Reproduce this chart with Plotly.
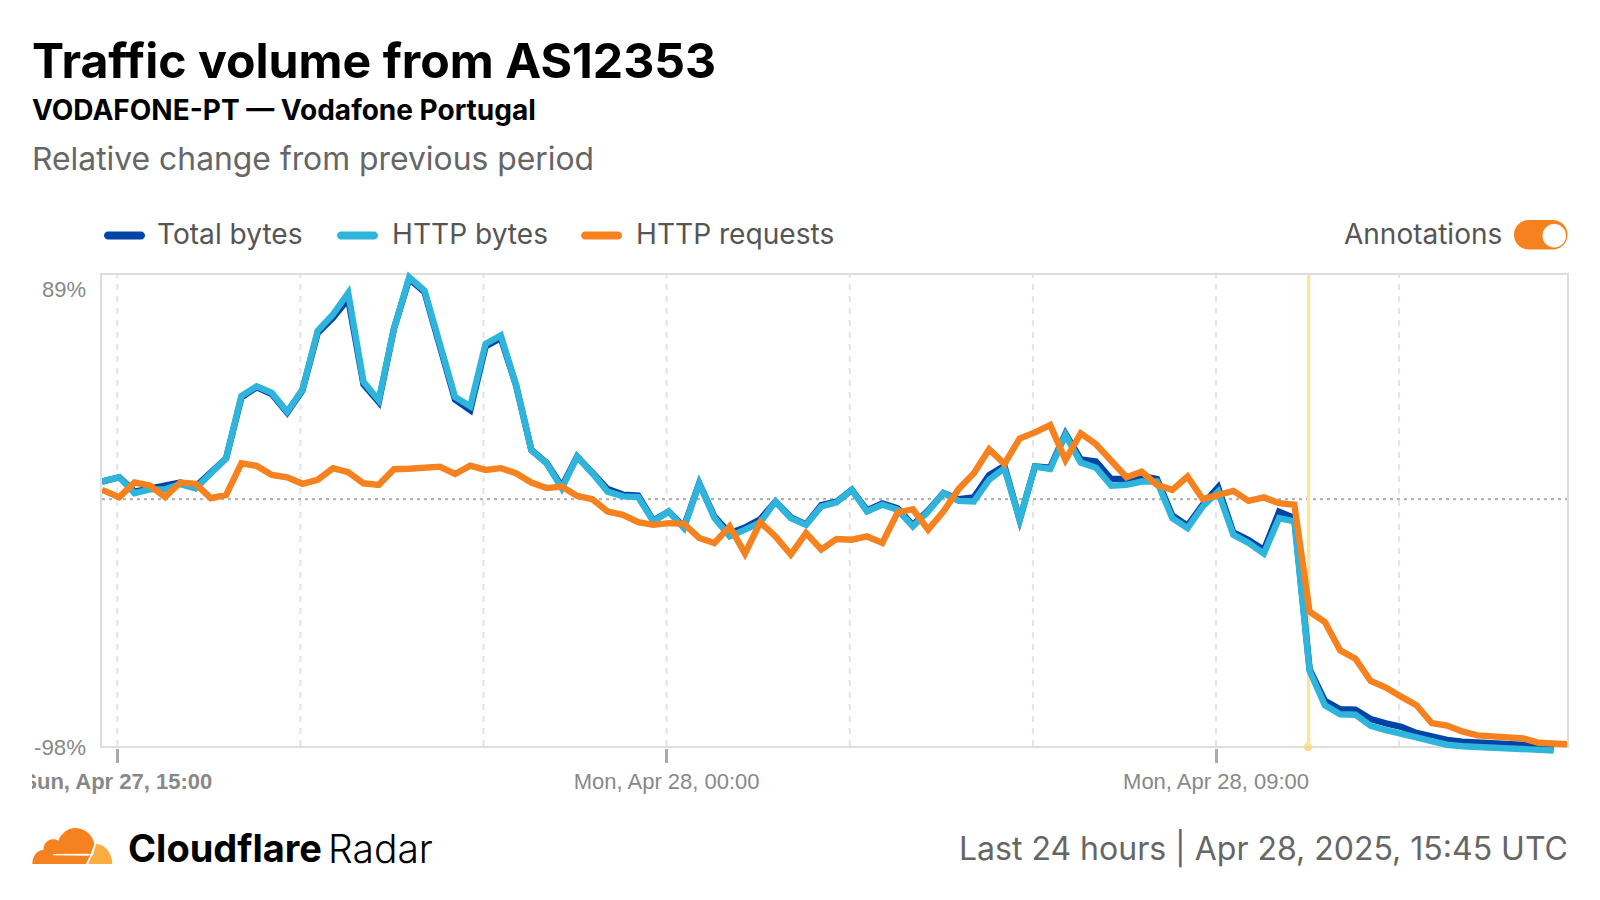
import pandas as pd
import plotly.graph_objects as go

# Sample times: points sit about two minutes after the quarter hour,
# with the first and last points on the edges of the chart.
times = list(pd.date_range("2025-04-27 14:47", periods=97, freq="15min"))
times[0] = pd.Timestamp("2025-04-27 14:45")
times[-1] = pd.Timestamp("2025-04-28 14:45")

total_bytes = [7.0,8.7,3.0,4.3,5.0,6.6,5.0,10.7,16.2,40.4,44.4,41.7,34.3,43.2,66.0,72.0,79.5,45.6,38.6,67.7,87.5,82.2,61.7,39.6,35.3,60.6,64.0,45.2,19.5,14.4,
 5.0,16.9,10.5,4.0,1.8,1.4,-8.5,-4.9,-11.0,6.3,-7.0,-13.5,-11.3,-8.0,-0.9,-7.2,-10.0,-2.4,-1.0,3.7,-4.5,-1.7,-3.6,-10.3,-4.5,2.4,0.0,0.7,9.5,
 13.2,-8.2,13.0,12.5,26.0,15.8,15.0,8.0,8.0,9.2,8.0,-6.5,-10.5,-2.2,4.7,-13.2,-16.2,-20.2,-5.0,-7.5,
 -67.6,-80.1,-83.4,-83.6,-87.3,-89.0,-90.4,-92.8,-94.4,-95.6,-96.3,-96.7,-97.0,-97.3,-97.5,-97.8,-99.0,None]
http_bytes = [7.0,8.7,2.4,3.9,3.9,6.0,4.3,10.7,16.2,41.0,44.8,42.2,34.7,43.5,66.8,73.3,81.9,46.6,39.3,67.7,88.1,82.8,61.7,40.6,36.9,61.7,65.0,45.2,19.5,14.2,
 4.3,16.9,10.3,3.0,1.1,0.8,-8.8,-4.9,-11.5,6.3,-7.5,-14.8,-12.1,-9.2,-0.9,-7.5,-10.2,-2.9,-1.3,3.7,-4.9,-2.2,-4.2,-10.8,-4.9,2.4,-0.7,-0.9,7.7,
 12.3,-8.2,12.9,12.0,25.5,14.5,12.5,5.3,5.7,7.0,7.0,-7.5,-11.5,-2.9,3.0,-14.1,-17.4,-21.6,-7.5,-8.8,
 -68.2,-81.8,-85.4,-85.6,-90.0,-91.7,-92.9,-94.6,-96.1,-97.5,-98.1,-98.3,-98.6,-98.8,-99.0,-99.3,-99.8,None]
http_requests = [3.7,0.8,6.6,5.4,0.8,6.6,6.1,0.4,1.7,14.2,13.2,9.6,8.7,6.1,7.7,12.3,10.7,6.3,5.7,11.9,12.1,12.5,12.9,10.0,13.3,11.6,12.3,10.3,6.6,4.4,
 5.0,1.3,0.0,-4.9,-6.2,-9.1,-10.2,-9.5,-9.8,-15.4,-17.4,-10.8,-21.6,-9.2,-14.8,-22.0,-13.5,-20.0,-15.8,-16.1,-14.8,-17.4,-5.3,-4.0,-12.1,-4.9,4.0,10.3,19.8,
 14.0,24.1,26.5,29.4,15.6,26.1,21.8,15.6,8.7,10.9,5.7,3.7,9.0,0.0,1.7,3.3,-0.7,0.7,-1.6,-2.2,
 -44.7,-48.8,-60.0,-63.3,-72.2,-74.8,-78.4,-81.8,-88.9,-89.9,-92.2,-93.8,-94.2,-94.6,-95.0,-96.7,-97.0,-97.3]

series_names = ["Total bytes", "HTTP bytes", "HTTP requests"]
series_colors = ["#0044a8", "#2fb4dc", "#f6821f"]
x_tick_vals = ["2025-04-27 15:00", "2025-04-28 00:00", "2025-04-28 09:00"]
x_tick_text = ["<b>Sun, Apr 27, 15:00</b>", "Mon, Apr 28, 00:00", "Mon, Apr 28, 09:00"]
grid_times = ["2025-04-27 15:00", "2025-04-27 18:00", "2025-04-27 21:00", "2025-04-28 00:00",
              "2025-04-28 03:00", "2025-04-28 06:00", "2025-04-28 09:00", "2025-04-28 12:00"]
annotation_time = "2025-04-28 10:31"
y_min, y_max = -98, 89

# Frame of the chart, and a plot area a little larger than it so that strokes near the
# frame are not cut off.
FL, FR, FT, FB = 102.0, 1567.0, 275.0, 746.0
unit = (FB - FT) / (y_max - y_min)
L, R, T, B = FL, FR, 255.0, 765.0
y_range = [y_min - (B - FB) / unit, y_max + (FT - T) / unit]

ORANGE, LIGHT = "#f6821f", "#fbad41"
def px(v): return (v - L) / (R - L)
def py(v): return (B - v) / (B - T)
def path(cmds):
    out = []
    for c in cmds:
        if isinstance(c, str):
            out.append(c)
        else:
            out.append(f"{px(c[0]):.5f},{py(c[1]):.5f}")
    return " ".join(out)
def pill(x0, y0, x1, y1):
    r = (y1 - y0) / 2; k = r * 0.5523
    return path(["M",(x0+r,y0),"L",(x1-r,y0),"C",(x1-r+k,y0),(x1,y0+r-k),(x1,y0+r),"C",(x1,y0+r+k),(x1-r+k,y1),(x1-r,y1),
                 "L",(x0+r,y1),"C",(x0+r-k,y1),(x0,y0+r+k),(x0,y0+r),"C",(x0,y0+r-k),(x0+r-k,y0),(x0+r,y0),"Z"])
def logo(points):
    return path([(25 + p[0] / 3, 820 + p[1] / 3) if not isinstance(p, str) else p for p in points])

fig = go.Figure()
for name, vals, col in zip(series_names, [total_bytes, http_bytes, http_requests], series_colors):
    fig.add_trace(go.Scatter(x=times, y=vals, name=name, mode="lines", cliponaxis=False,
                             line=dict(color=col, width=6.4), showlegend=False))

def label(text, x, y, size, color="#000", anchor="left", family="Inter", weight=None):
    f = dict(family=family, size=size, color=color)
    if weight: f["weight"] = weight
    fig.add_annotation(text=text, xref="paper", yref="paper", x=px(x), y=py(y), xanchor=anchor, yanchor="middle",
                       showarrow=False, font=f, borderpad=0, borderwidth=0)

label("<b>Traffic volume from AS12353</b>", 32, 60, 48.2)
label("<b>VODAFONE-PT — Vodafone Portugal</b>", 32, 110, 28)
label("Relative change from previous period", 32, 158, 31.85, "#666666")
label("Annotations", 1502, 234, 28, "#555555", "right")
label("89%", 86, 289, 22, "#888888", "right", "Liberation Sans")
label("-98%", 86, 747, 22.3, "#888888", "right", "Liberation Sans")
label("<b>Cloudflare</b>", 128, 848, 38)
label("Radar", 327.5, 848, 39, weight=300)
label("Last 24 hours | Apr 28, 2025, 15:45 UTC", 1568, 848, 32, "#666666", "right")

legend_swatch_x = [104, 337, 581]
legend_text_x = [157, 392, 636]

shapes = [dict(type="line", xref="x", yref="y", x0=t, x1=t, y0=y_min, y1=y_max, layer="below",
               line=dict(color="#e4e4e4", width=2, dash="6px,6px")) for t in grid_times]
shapes += [
    dict(type="rect", xref="paper", yref="paper", x0=px(FL-1), x1=px(FR+1), y0=py(FB+1), y1=py(FT-1), layer="below",
         fillcolor="rgba(0,0,0,0)", line=dict(color="#dddddd", width=2)),
    dict(type="line", xref="paper", yref="y", x0=0, x1=1, y0=0, y1=0, layer="below",
         line=dict(color="#b5b5b5", width=2.2, dash="3px,4px")),
    dict(type="line", xref="x", yref="y", x0=annotation_time, x1=annotation_time, y0=y_min, y1=y_max, layer="below",
         line=dict(color="#fee3a3", width=3.5)),
    dict(type="circle", xref="paper", yref="paper", x0=px(1304), x1=px(1312), y0=py(743), y1=py(751), layer="below",
         fillcolor="#fdd98a", line=dict(width=0)),
    dict(type="rect", xref="paper", yref="paper", x0=px(0), x1=px(32), y0=py(800), y1=py(765), layer="above",
         fillcolor="white", line=dict(width=0)),
    dict(type="path", xref="paper", yref="paper", path=pill(1514, 220, 1567.5, 249.5), fillcolor=ORANGE, line=dict(width=0)),
    dict(type="circle", xref="paper", yref="paper", x0=px(1542.5), x1=px(1566), y0=py(224), y1=py(247.5), fillcolor="white", line=dict(width=0)),
    dict(type="path", xref="paper", yref="paper", fillcolor=ORANGE, line=dict(width=0),
         path=logo(["M",(22,132),"C",(22,110),(35,90),(55,90),"C",(55,70),(70,57),(85,58),"C",(92,58),(97,60),(100,62),
                    "C",(110,38),(130,24),(150,24),"C",(180,24),(203,45),(208,72),"L",(196,104),"L",(183,132),"Z"])),
    dict(type="path", xref="paper", yref="paper", fillcolor=LIGHT, line=dict(width=0),
         path=logo(["M",(190,132),"C",(195,118),(198,112),(205,103),"L",(213,72),"C",(240,72),(262,100),(262,132),"Z"])),
    dict(type="path", xref="paper", yref="paper", fillcolor="white", line=dict(width=0),
         path=logo(["M",(85,102),"L",(188,101),"L",(199,104),"L",(188,107),"L",(85,106),"Z"])),
]
for sx, name, col, tx in zip(legend_swatch_x, series_names, series_colors, legend_text_x):
    shapes.append(dict(type="path", xref="paper", yref="paper", path=pill(sx, 231.5, sx + 41, 239.5), fillcolor=col, line=dict(width=0)))
    label(name, tx, 234, 28.1, "#555555")

fig.update_layout(
    width=1600, height=900, autosize=False, paper_bgcolor="white", plot_bgcolor="white",
    margin=dict(l=L, r=1600-R, t=T, b=900-B, pad=0),
    font=dict(family="Inter"),
    shapes=shapes,
    showlegend=False,
    xaxis=dict(range=[pd.Timestamp("2025-04-27 14:45"), pd.Timestamp("2025-04-28 14:45")], tickmode="array", tickvals=x_tick_vals, ticktext=x_tick_text,
               anchor="free", position=py(748),
               ticks="outside", ticklen=14, tickwidth=3, tickcolor="#aaaaaa", layer="below traces",
               tickfont=dict(family="Liberation Sans", size=22, color="#888888"),
               showgrid=False, showline=False, zeroline=False),
    yaxis=dict(range=y_range, showgrid=False, zeroline=False, tickvals=[], showline=False),
)
fix = "document.querySelectorAll('.js-line').forEach(function(e){e.style.strokeMiterlimit='10';});"
fig.write_html("out.html", config=dict(displayModeBar=False),
               post_script="document.body.style.margin='0';" + fix + "setTimeout(function(){" + fix + "},200);")
